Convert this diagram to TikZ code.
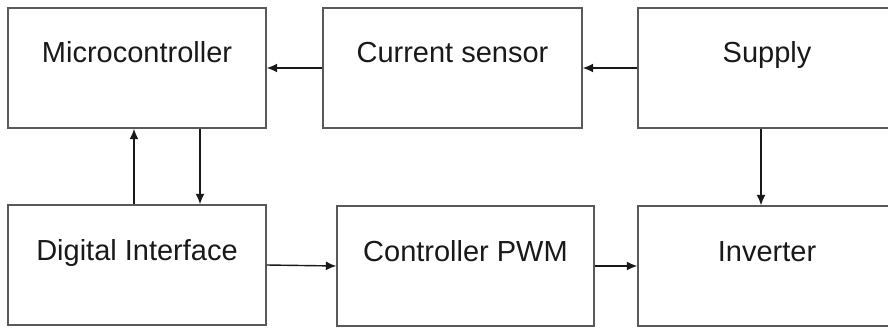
\documentclass[tikz,border=0pt]{standalone}
\usepackage{fontspec}
\setmainfont{Liberation Sans}
\usepackage{tikz}
\usetikzlibrary{arrows.meta,positioning,calc}

\tikzset{
  blockbox/.style={draw=black!65, line width=0.8pt, inner xsep=0pt, inner ysep=0pt,
    minimum height=2.4cm, text height=1.1cm, text depth=1.3cm,
    font=\fontsize{16.5}{20}\selectfont, text=black!90},
  flow/.style={draw=black!90, line width=0.8pt, -{Latex[length=2.1mm,width=1.8mm]}}
}

\begin{document}
\begin{tikzpicture}
    \useasboundingbox (0,0) rectangle (17.76,6.58);
    % top row
    \node[blockbox, minimum width=5.16cm] (micro) at (2.74,5.22) {Microcontroller};
    \node[blockbox, minimum width=5.18cm] (sensor) at (9.05,5.22) {Current sensor};
    \node[blockbox, minimum width=5.16cm] (supply) at (15.34,5.22) {Supply};
    % bottom row
    \node[blockbox, minimum width=5.16cm] (digital) at (2.74,1.28) {Digital Interface};
    \node[blockbox, minimum width=5.14cm] (pwm) at (9.31,1.26) {Controller PWM};
    \node[blockbox, minimum width=5.16cm] (inverter) at (15.34,1.26) {Inverter};
    % connections
    \draw[flow] (supply.west) -- (sensor.east);
    \draw[flow] (sensor.west) -- (micro.east);
    \draw[flow] ([xshift=-0.06cm]digital.north) -- ([xshift=-0.06cm]micro.south);
    \draw[flow] ([xshift=1.26cm]micro.south) -- ([xshift=1.26cm]digital.north);
    \draw[flow] (digital.east) -- (pwm.west);
    \draw[flow] (pwm.east) -- (inverter.west);
    \draw[flow] ([xshift=-0.12cm]supply.south) -- ([xshift=-0.12cm]inverter.north);
  \end{tikzpicture}
\end{document}
